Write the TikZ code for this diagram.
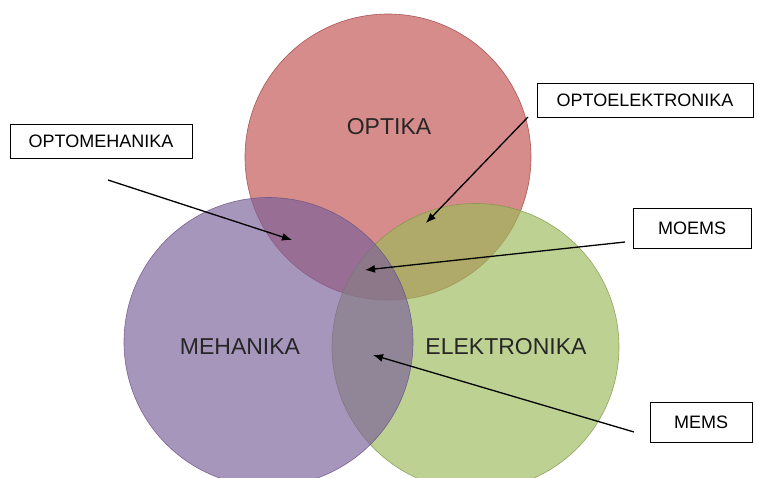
\documentclass[tikz,border=0pt]{standalone}
\usepackage{fontspec}
\setmainfont{Liberation Sans}
\usetikzlibrary{arrows.meta}

\definecolor{optred}{RGB}{192,80,77}
\definecolor{mehpurple}{RGB}{128,100,162}
\definecolor{elgreen}{RGB}{155,187,89}

\tikzset{
    field/.style={fill opacity=0.66, draw opacity=0.8, line width=0.6pt},
    fieldlabel/.style={font=\fontsize{23}{26}\selectfont, text=black!85},
    tagbox/.style={draw, line width=0.9pt, fill=white, minimum height=34pt,
        inner sep=0pt, font=\fontsize{18}{20}\selectfont},
    pointer/.style={line width=1.3pt, -{Latex[length=10pt,width=8pt]}}
}

\begin{document}
\begin{tikzpicture}[x=1pt, y=-1pt]
        % three overlapping fields, labels pointing at the overlaps

\useasboundingbox (0,0) rectangle (757,477);
\begin{scope}
\clip (0,0) rectangle (757,477);
\fill[optred, field] (388,157) circle (143);
\draw[optred!80!black, field, fill=none] (388,157) circle (143);
\fill[elgreen, field] (475.5,347) circle (143.5);
\draw[elgreen!80!black, field, fill=none] (475.5,347) circle (143.5);
\fill[mehpurple!95!black, field] (268.5,342) circle (144.5);
\draw[mehpurple!80!black, field, fill=none] (268.5,342) circle (144.5);
\end{scope}

\node[fieldlabel] (optika) at (389,127) {OPTIKA};
\node[fieldlabel] (mehanika) at (240,347) {MEHANIKA};
\node[fieldlabel] (elektronika) at (506,347) {ELEKTRONIKA};

\node[tagbox, minimum width=182pt] (optomeh) at (101,141) {OPTOMEHANIKA};
\node[tagbox, minimum width=216pt] (optoel) at (645,100) {OPTOELEKTRONIKA};
\node[tagbox, minimum width=118pt, minimum height=40pt] (moems) at (692,228) {MOEMS};
\node[tagbox, minimum width=102pt, minimum height=40pt] (mems) at (701,422) {MEMS};

\coordinate (optomeh-from) at (108,180);
\coordinate (optomeh-to) at (292,240);
\coordinate (optoel-from) at (528,117);
\coordinate (optoel-to) at (426,223);
\coordinate (moems-from) at (625,242);
\coordinate (moems-to) at (365,270);
\coordinate (mems-from) at (634,432);
\coordinate (mems-to) at (373,355);

\draw[pointer] (optomeh-from) -- (optomeh-to);
\draw[pointer] (optoel-from) -- (optoel-to);
\draw[pointer] (moems-from) -- (moems-to);
\draw[pointer] (mems-from) -- (mems-to);

    \end{tikzpicture}
\end{document}
